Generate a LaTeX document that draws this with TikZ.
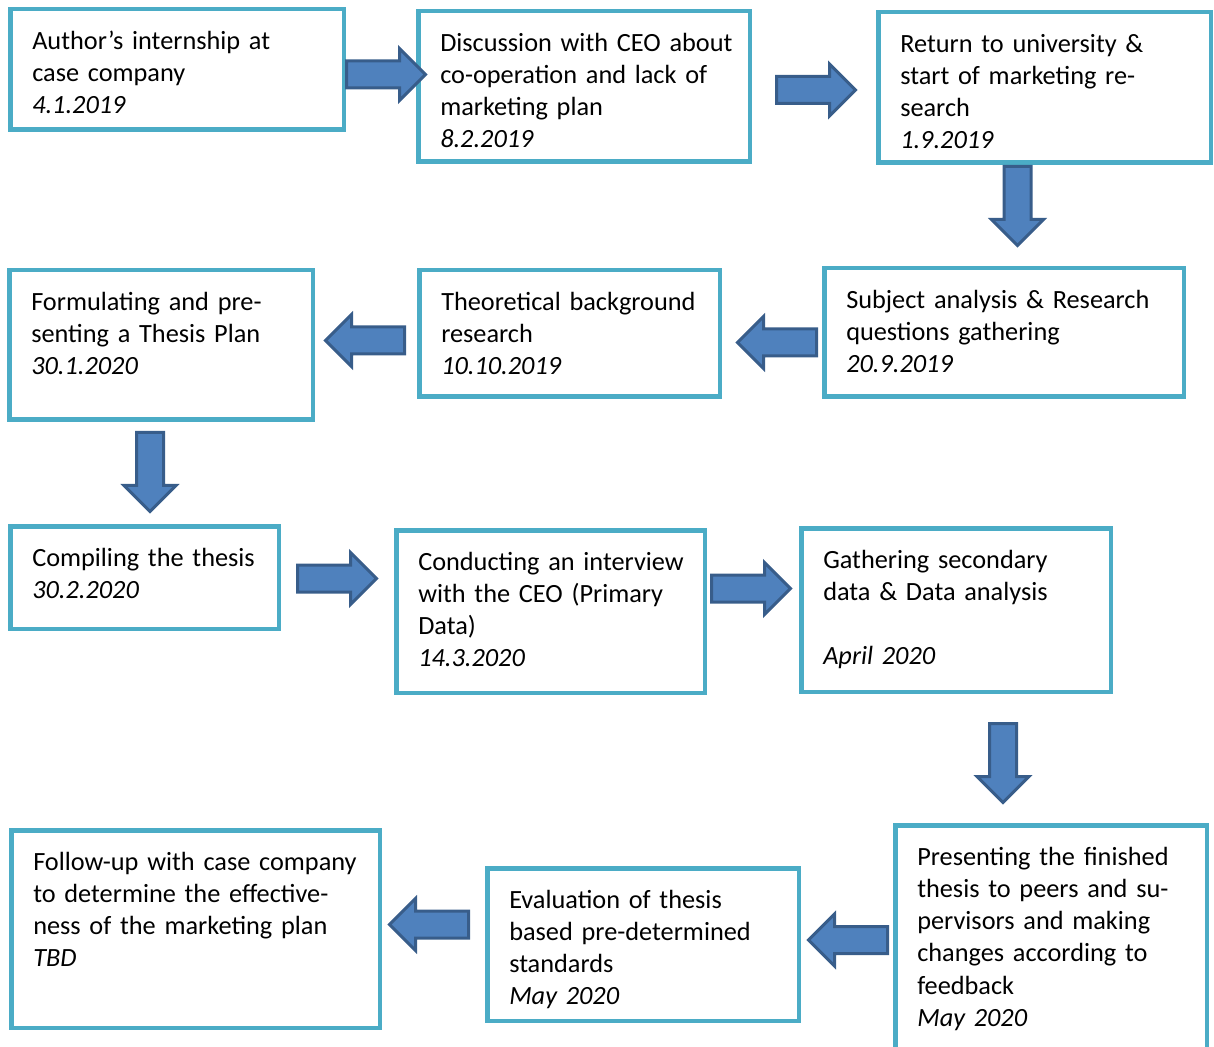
\documentclass[tikz,border=0pt]{standalone}
\usepackage{fontspec}
\setmainfont{Carlito}
\usetikzlibrary{shapes.arrows}
\definecolor{boxline}{HTML}{4BACC6}
\definecolor{arrfill}{HTML}{4F81BD}
\definecolor{arrline}{HTML}{385D8A}

\begin{document}
\begin{tikzpicture}[
  x=0.5pt, y=-0.5pt,
  font=\fontsize{13.15}{16.15}\selectfont,
  every node/.style={align=left},
  stepbox/.style={draw=boxline,line width=2.25pt,fill=white,anchor=north west,inner xsep=11pt,inner ysep=0pt,text height=19.9pt,
    execute at begin node={\rightskip=0pt plus 1fil minus 30pt}},
  barrow/.style={single arrow,draw=arrline,fill=arrfill,line width=1.5pt,inner xsep=0pt,inner ysep=6pt,minimum height=39.5pt,single arrow head extend=6.25pt,anchor=tail},
  toright/.style={barrow},
  toleft/.style={barrow,rotate=180},
  todown/.style={barrow,rotate=-90},
]
\useasboundingbox (0,0) rectangle (1214,1047);
\clip (0,0) rectangle (1214,1047);

% ---- Row 1 (left to right)
\node[stepbox,text width=144.75pt,text depth=40.35pt] (S1) at (8,7)
  {Author’s internship at\\case company\\\textit{4.1.2019}};
\node[stepbox,text width=143.75pt,text depth=55.35pt] (S2) at (416,9)
  {Discussion with CEO about\\co-operation and lack of\\marketing plan\\\textit{8.2.2019}};
\node[stepbox,text width=144.25pt,text depth=55.35pt] (S3) at (876,10)
  {Return to university \&\\start of marketing re-\\search\\\textit{1.9.2019}};

% ---- Row 2 (right to left)
\node[stepbox,text width=157.75pt,text depth=44.35pt] (S4) at (822,266)
  {Subject analysis \& Research\\questions gathering\\\textit{20.9.2019}};
\node[stepbox,text width=128.25pt,text depth=43.35pt] (S5) at (417,268)
  {Theoretical background\\research\\\textit{10.10.2019}};
\node[stepbox,text width=129.75pt,text depth=54.85pt] (S6) at (7,268)
  {Formulating and pre-\\senting a Thesis Plan\\\textit{30.1.2020}};

% ---- Row 3 (left to right)
\node[stepbox,text width=112.25pt,text depth=31.35pt] (S7) at (8,524)
  {Compiling the thesis\\\textit{30.2.2020}};
\node[stepbox,text width=132.25pt,text depth=61.35pt] (S8) at (394,528)
  {Conducting an interview\\with the CEO (Primary\\Data)\\\textit{14.3.2020}};
\node[stepbox,text width=132.75pt,text depth=61.85pt] (S9) at (799,526)
  {Gathering secondary\\data \& Data analysis\\[16.15pt]\textit{April 2020}};

% ---- Row 4 (right to left)
\node[stepbox,text width=133.75pt,text depth=100.35pt] (S10) at (893,823)
  {Presenting the finished\\thesis to peers and su-\\pervisors and making\\changes according to\\feedback\\\textit{May 2020}};
\node[stepbox,text width=133.75pt,text depth=56.35pt] (S11) at (485,866)
  {Evaluation of thesis\\based pre-determined\\standards\\\textit{May 2020}};
\node[stepbox,text width=162.25pt,text depth=78.85pt] (S12) at (9,828)
  {Follow-up with case company\\to determine the effective-\\ness of the marketing plan\\\textit{TBD}};

% ---- Block arrows between steps (placed by their tails)
\node[toright] (A1) at (345,74.5) {};
\node[toright] (A2) at (775,90) {};
\node[todown] (A3) at (1017.5,165) {};
\node[toleft] (A4) at (818,342.5) {};
\node[toleft] (A5) at (406,340.5) {};
\node[todown] (A6) at (150,431) {};
\node[toright] (A7) at (296,578.5) {};
\node[toright] (A8) at (710,588.5) {};
\node[todown] (A9) at (1003,722) {};
\node[toleft] (A10) at (889,940) {};
\node[toleft] (A11) at (470,924.5) {};

\end{tikzpicture}
\end{document}
